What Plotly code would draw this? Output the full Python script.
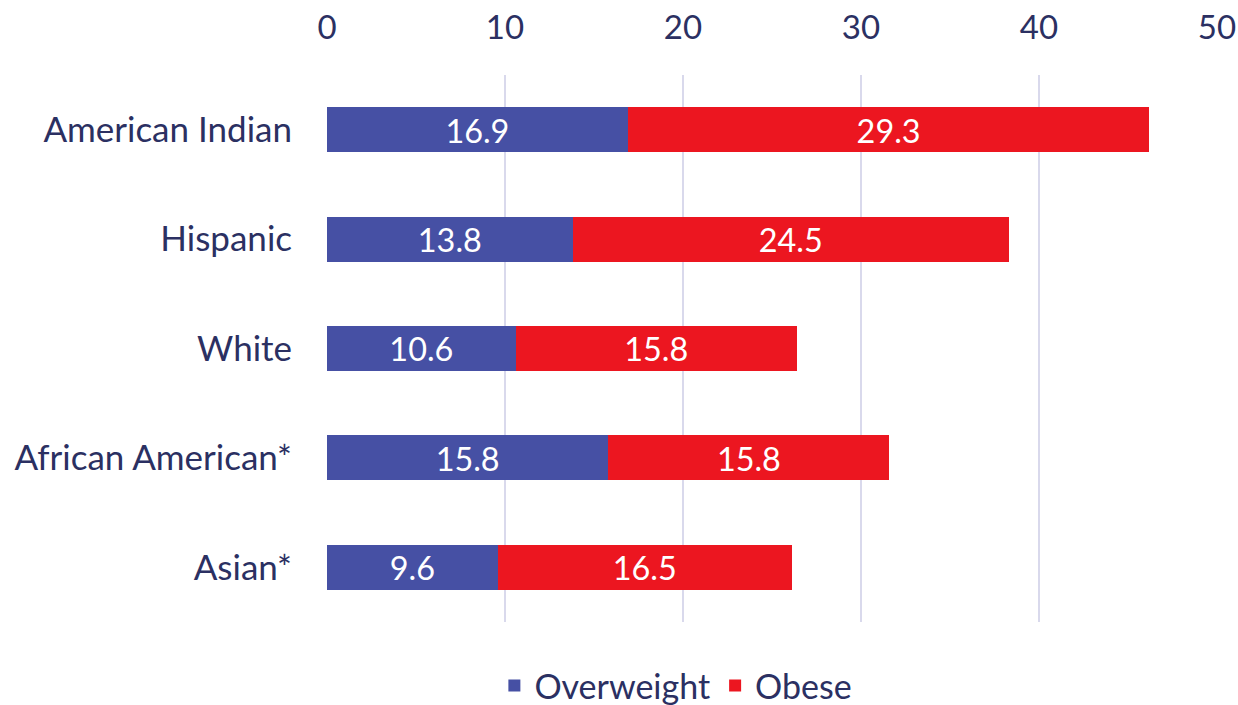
import plotly.graph_objects as go

categories = ["American Indian", "Hispanic", "White", "African American*", "Asian*"]
overweight = [16.9, 13.8, 10.6, 15.8, 9.6]
obese = [29.3, 24.5, 15.8, 15.8, 16.5]
tick_vals = [0, 10, 20, 30, 40, 50]

FONT = "Lato"
TXT = "#2b3062"
FS = 35

fig = go.Figure()
fig.add_trace(go.Bar(
    y=categories, x=overweight, name="Overweight", orientation="h",
    marker=dict(color="#4650a4", line=dict(width=0)),
    text=[f"{v:.1f}" for v in overweight], textposition="inside",
    insidetextanchor="middle", textangle=0,
    textfont=dict(color="white", size=FS, family=FONT),
))
fig.add_trace(go.Bar(
    y=categories, x=obese, name="Obese", orientation="h",
    marker=dict(color="#ec1620", line=dict(width=0)),
    text=[f"{v:.1f}" for v in obese], textposition="inside",
    insidetextanchor="middle", textangle=0,
    textfont=dict(color="white", size=FS, family=FONT),
))

fig.update_layout(
    width=1238, height=705,
    barmode="stack", bargap=0.59,
    plot_bgcolor="white", paper_bgcolor="white",
    margin=dict(l=327, r=21, t=75, b=83, autoexpand=False),
    font=dict(family=FONT, color=TXT, size=FS),
    uniformtext=dict(mode=False),
    xaxis=dict(
        side="top", range=[0, 50], tickvals=tick_vals,
        showgrid=True, gridcolor="#d9d9ec", gridwidth=2,
        zeroline=False, showline=False, ticks="",
        tickfont=dict(size=33, color=TXT, family=FONT),
        automargin=False, ticklabelstandoff=28,
    ),
    yaxis=dict(
        categoryorder="array", categoryarray=categories[::-1],
        showgrid=False, ticks="", ticklen=0, zeroline=False, showline=False,
        tickfont=dict(size=FS, color=TXT, family=FONT),
        automargin=False, ticklabelstandoff=34,
    ),
    legend=dict(
        orientation="h", x=0.392, xanchor="center", y=-0.117, yanchor="middle",
        font=dict(size=34, color=TXT, family=FONT),
        itemwidth=30, traceorder="normal",
    ),
    showlegend=True,
)

fig.write_html(
    "out.html",
    config={"displayModeBar": False},
    post_script="document.body.style.margin='0';document.body.style.overflow='hidden';",
)
